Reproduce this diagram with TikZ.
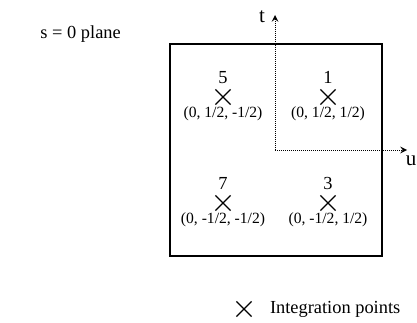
\documentclass[tikz,border=0pt]{standalone}
\usepackage{fontspec}
\setmainfont{Liberation Serif}
\usetikzlibrary{positioning,shapes.misc}

\begin{document}
\begin{tikzpicture}[
  x=0.5pt,
  y=0.5pt,
  frame/.style={
      rectangle,
      draw,
      line width=1pt,
      minimum width=106pt,
      minimum height=106pt
  },
  ipoint/.style={
      cross out,
      draw,
      line width=0.6pt,
      minimum size=7pt,
      inner sep=0pt
  },
  label/.style={
      inner sep=0pt,
      font=\fontsize{9.2}{11}\selectfont
  },
  axislabel/.style={
      inner sep=0pt,
      font=\fontsize{10.5}{12}\selectfont
  },
  coord/.style={
      inner sep=0pt,
      font=\fontsize{7.8}{9}\selectfont
  },
  axis/.style={
      ->,
      >=stealth,
      dash pattern=on 0.4pt off 0.6pt,
      line width=0.5pt
  }
]

\useasboundingbox (0,0) rectangle (417,322);

% ==================================================
% Plane and axes
% ==================================================

\node[label, anchor=west] (title) at (40,288) {s = 0 plane};

\node[frame] (plane) at (276,172) {};

\coordinate (origin) at (275,172);
\coordinate (ttip) at (275,307);
\coordinate (utip) at (407,172);

\draw[axis] (origin) -- (ttip);
\draw[axis] (origin) -- (utip);

\node[axislabel] (tlab) at (262,305) {t};
\node[axislabel] (ulab) at (411,161) {u};

% ==================================================
% Integration points
% ==================================================

\node[ipoint] (p5) at (223,225) {};
\node[label, above=2.9pt of p5] (n5) {5};
\node[coord, below=1pt of p5] (c5) {(0, 1/2, -1/2)};

\node[ipoint] (p1) at (328,225) {};
\node[label, above=2.9pt of p1] (n1) {1};
\node[coord, below=1pt of p1] (c1) {(0, 1/2, 1/2)};

\node[ipoint] (p7) at (223,119) {};
\node[label, above=2.9pt of p7] (n7) {7};
\node[coord, below=1pt of p7] (c7) {(0, -1/2, -1/2)};

\node[ipoint] (p3) at (328,119) {};
\node[label, above=2.9pt of p3] (n3) {3};
\node[coord, below=1pt of p3] (c3) {(0, -1/2, 1/2)};

% ==================================================
% Legend
% ==================================================

\node[ipoint] (key) at (244,13) {};
\node[label, right=9pt of key] (keytext) {Integration points};

\end{tikzpicture}
\end{document}
